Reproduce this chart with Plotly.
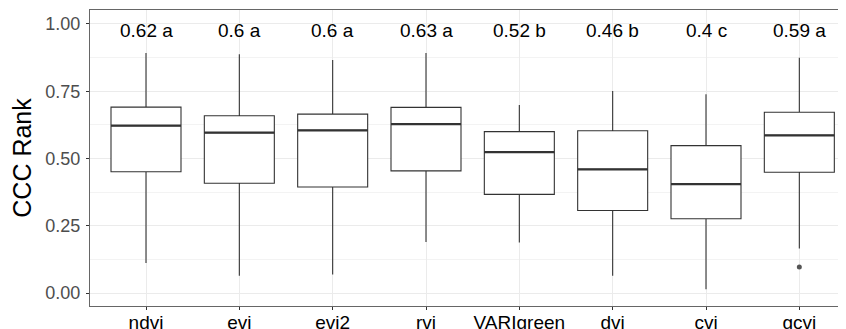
import plotly.graph_objects as go

categories = ["ndvi", "evi", "evi2", "rvi", "VARIgreen", "dvi", "cvi", "gcvi"]
upper = [0.892, 0.888, 0.866, 0.892, 0.699, 0.751, 0.739, 0.875]
q3 = [0.691, 0.659, 0.665, 0.690, 0.600, 0.603, 0.548, 0.672]
median = [0.622, 0.596, 0.605, 0.628, 0.524, 0.460, 0.405, 0.586]
q1 = [0.451, 0.408, 0.394, 0.454, 0.367, 0.307, 0.276, 0.449]
lower = [0.112, 0.064, 0.069, 0.190, 0.188, 0.064, 0.014, 0.166]
outlier_cat = ["gcvi"]
outlier_val = [0.097]
labels = ["0.62 a", "0.6 a", "0.6 a", "0.63 a", "0.52 b", "0.46 b", "0.4 c", "0.59 a"]

FONT = "Liberation Sans, Arial, sans-serif"
# the page body has an 8px default margin; the figure is sized to fill the rest
W, H = 838, 321
ML, MR, MT, MB = 82, 0, 2, 23
XR = [-0.6, 7.5]
BOXW = 0.75
px_per_unit = (W - ML - MR) / (XR[1] - XR[0])

fig = go.Figure()
fig.add_trace(go.Box(
    x=categories, q1=q1, median=median, q3=q3,
    lowerfence=lower, upperfence=upper,
    width=BOXW, whiskerwidth=0,
    fillcolor="white", line=dict(color="#333333", width=1.1),
    boxpoints=False, showlegend=False, hoverinfo="skip",
))
# thicker median line, as in ggplot
fig.add_trace(go.Scatter(
    x=categories, y=median, mode="markers",
    marker=dict(symbol="line-ew", size=BOXW * px_per_unit / 1.4,
                line=dict(color="#333333", width=2.2)),
    showlegend=False, hoverinfo="skip",
))
fig.add_trace(go.Scatter(
    x=outlier_cat, y=outlier_val, mode="markers",
    marker=dict(color="#555555", size=5),
    showlegend=False, hoverinfo="skip",
))
for c, t in zip(categories, labels):
    fig.add_annotation(x=c, y=0.975, text=t, showarrow=False,
                       font=dict(family=FONT, size=19, color="black"),
                       xanchor="center", yanchor="middle")

fig.update_layout(
    width=W, height=H,
    margin=dict(l=ML, r=MR, t=MT, b=MB, autoexpand=False),
    paper_bgcolor="white", plot_bgcolor="white",
    font=dict(family=FONT),
)
fig.update_xaxes(
    type="category", categoryorder="array", categoryarray=categories,
    range=XR, showgrid=True, gridcolor="#ebebeb", gridwidth=1,
    showline=True, linecolor="#666666", linewidth=1, mirror=True,
    ticks="outside", ticklen=3, tickcolor="#333333",
    tickfont=dict(family=FONT, size=19, color="black"),
    ticklabelstandoff=-4, automargin=False,
    zeroline=False,
)
fig.update_yaxes(
    range=[-0.048, 1.052], tickvals=[0, 0.25, 0.5, 0.75, 1.0],
    ticktext=["0.00", "0.25", "0.50", "0.75", "1.00"],
    showgrid=True, gridcolor="#ebebeb", gridwidth=1,
    minor=dict(tickvals=[0.125, 0.375, 0.625, 0.875], showgrid=True,
               gridcolor="#f3f3f3", gridwidth=0.6, ticks=""),
    showline=True, linecolor="#666666", linewidth=1, mirror=False,
    ticks="outside", ticklen=3, tickcolor="#333333",
    tickfont=dict(family=FONT, size=18, color="#4d4d4d"),
    ticklabelstandoff=2, automargin=False,
    title=dict(text="CCC Rank", font=dict(family=FONT, size=25, color="black"), standoff=15),
    zeroline=False,
)
fig.write_html("out.html")
